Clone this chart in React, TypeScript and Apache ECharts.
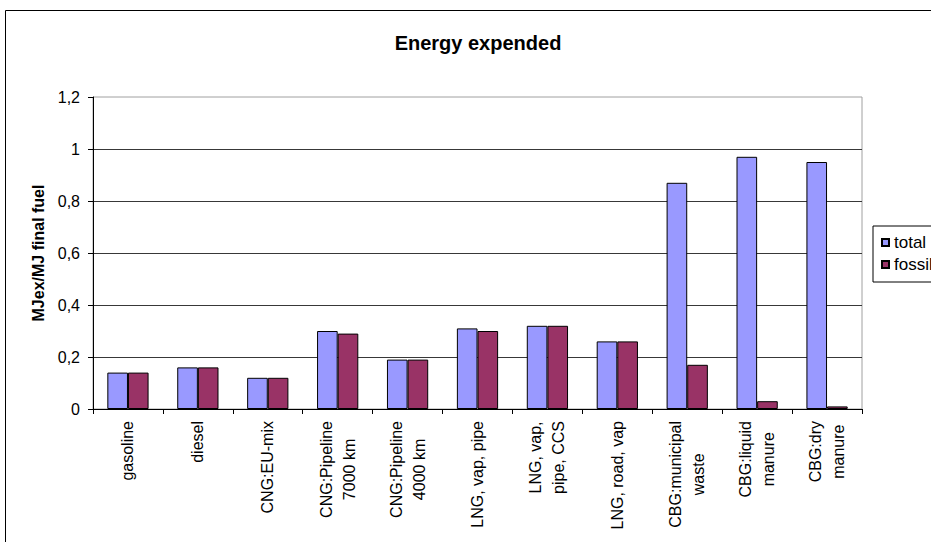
import React, { useEffect, useRef } from "react";
import * as echarts from "echarts";

// Energy expended per MJ of final fuel, by fuel pathway
const categories = [
  "gasoline",
  "diesel",
  "CNG:EU-mix",
  "CNG:Pipeline\n7000 km",
  "CNG:Pipeline\n4000 km",
  "LNG, vap, pipe",
  "LNG, vap,\npipe, CCS",
  "LNG, road, vap",
  "CBG:municipal\nwaste",
  "CBG:liquid\nmanure",
  "CBG:dry\nmanure",
];
const totalValues = [0.14, 0.16, 0.12, 0.3, 0.19, 0.31, 0.32, 0.26, 0.87, 0.97, 0.95];
const fossilValues = [0.14, 0.16, 0.12, 0.29, 0.19, 0.3, 0.32, 0.26, 0.17, 0.03, 0.01];
const seriesNames = ["total", "fossil"];

const FONT = 'Arial, "Liberation Sans", sans-serif';

export default function App() {
  const ref = useRef<HTMLDivElement>(null);

  useEffect(() => {
    if (!ref.current) return;
    const chart = echarts.init(ref.current, null, { renderer: "svg" });
    chart.setOption({
      animation: false,
      backgroundColor: "#ffffff",
      textStyle: { fontFamily: FONT },
      title: {
        text: "Energy expended",
        left: "center",
        top: 28,
        textStyle: { fontFamily: FONT, fontSize: 20, fontWeight: "bold", color: "#000" },
      },
      graphic: [
        {
          type: "rect",
          z: -10,
          silent: true,
          shape: { x: 5.5, y: 10.5, width: 944, height: 600 },
          style: { fill: "none", stroke: "#000", lineWidth: 1 },
        },
      ],
      legend: {
        orient: "vertical",
        left: 873,
        top: 226,
        padding: [8, 8, 9, 8],
        itemGap: 5,
        itemWidth: 7,
        itemHeight: 7,
        icon: "rect",
        borderColor: "#000",
        borderWidth: 1,
        backgroundColor: "#fff",
        textStyle: { fontFamily: FONT, fontSize: 17, color: "#000" },
        data: seriesNames,
      },
      grid: {
        left: 93,
        top: 97,
        right: 94,
        bottom: 151,
        show: true,
        borderColor: "#a0a0a0",
        borderWidth: 1,
        backgroundColor: "transparent",
      },
      xAxis: {
        type: "category",
        data: categories,
        boundaryGap: true,
        axisLine: { lineStyle: { color: "#000", width: 1 } },
        axisTick: { show: true, interval: 0, length: 5, alignWithLabel: false, lineStyle: { color: "#000" } },
        axisLabel: {
          interval: 0,
          rotate: 90,
          margin: 12,
          color: "#000",
          formatter: (v: string) =>
            v
              .split("\n")
              .map((s) => `{c|${s}}`)
              .join("\n"),
          rich: {
            c: { align: "center", fontFamily: FONT, fontSize: 16, lineHeight: 23, color: "#000" },
          },
        },
        splitLine: { show: false },
      },
      yAxis: {
        type: "value",
        min: 0,
        max: 1.2,
        interval: 0.2,
        name: "MJex/MJ final fuel",
        nameLocation: "middle",
        nameGap: 47,
        nameTextStyle: { fontFamily: FONT, fontSize: 16, fontWeight: "bold", color: "#000" },
        axisLine: { show: true, lineStyle: { color: "#000", width: 1 } },
        axisTick: { show: true, length: 5, lineStyle: { color: "#000" } },
        axisLabel: {
          margin: 13,
          color: "#000",
          fontFamily: FONT,
          fontSize: 16,
          formatter: (v: number) => String(Math.round(v * 10) / 10).replace(".", ","),
        },
        splitLine: {
          show: true,
          showMaxLine: false,
          lineStyle: { color: "#383838", width: 1 },
        },
      },
      series: [
        {
          name: seriesNames[0],
          type: "bar",
          data: totalValues,
          barGap: "0%",
          barCategoryGap: "41%",
          itemStyle: { color: "#9999ff", borderColor: "#000", borderWidth: 1 },
        },
        {
          name: seriesNames[1],
          type: "bar",
          data: fossilValues,
          barGap: "0%",
          barCategoryGap: "41%",
          itemStyle: { color: "#993366", borderColor: "#000", borderWidth: 1 },
        },
      ],
    });
    return () => chart.dispose();
  }, []);

  return (
    <div
      style={{
        position: "absolute",
        left: 0,
        top: 0,
        width: 931,
        height: 542,
        overflow: "hidden",
        background: "#fff",
      }}
    >
      <div ref={ref} style={{ width: 956, height: 560 }} />
    </div>
  );
}
